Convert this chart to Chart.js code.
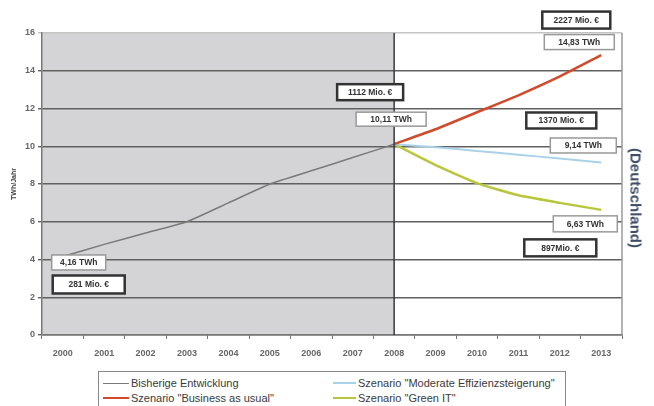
<!DOCTYPE html>
<html>
<head>
<meta charset="utf-8">
<script src="https://cdn.jsdelivr.net/npm/chart.js@4/dist/chart.umd.min.js"></script>
<style>
  body { margin: 0; background: #fff; }
  #wrap { position: relative; width: 654px; height: 406px; overflow: hidden; }
  #legend {
    position: absolute; left: 98px; top: 371px; width: 468px; height: 44px;
    border: 1px solid #888; background: #fff; box-sizing: border-box;
    font: 11px "Liberation Sans", Arial, sans-serif; color: #3a3a3a;
  }
  .item { position: absolute; display: flex; align-items: center; height: 14px; white-space: nowrap; }
  .swatch { display: inline-block; margin-right: 2px; }
  #land {
    position: absolute; left: 636px; top: 198px; transform: translate(-50%, -50%) rotate(90deg);
    font: bold 15px "Liberation Sans", Arial, sans-serif; color: #3f4d66; white-space: nowrap;
  }
</style>
</head>
<body>
<div id="wrap">
  <canvas id="chart" width="654" height="406"></canvas>
  <div id="legend"></div>
  <div id="land">(Deutschland)</div>
</div>
<script>
const years = ['2000', '2001', '2002', '2003', '2004', '2005', '2006', '2007', '2008', '2009', '2010', '2011', '2012', '2013'];
const bisherige = [4.16, 4.8, 5.4, 6.0, 7.0, 8.0, 8.7, 9.4, 10.11, null, null, null, null, null];
const businessAsUsual = [null, null, null, null, null, null, null, null, 10.11, 10.9, 11.8, 12.7, 13.7, 14.83];
const moderat = [null, null, null, null, null, null, null, null, 10.11, 9.95, 9.75, 9.55, 9.35, 9.14];
const greenIT = [null, null, null, null, null, null, null, null, 10.11, 9.0, 8.05, 7.4, 7.0, 6.63];
const yTicks = [0, 2, 4, 6, 8, 10, 12, 14, 16];

const seriesLabels = ['Bisherige Entwicklung', 'Szenario "Business as usual"', 'Szenario "Moderate Effizienzsteigerung"', 'Szenario "Green IT"'];
const seriesColors = ['#7a7a7a', '#d04a2c', '#a9d2ea', '#b9c63c'];
const seriesWidths = [1.5, 2.5, 2, 2.5];
const seriesData = [bisherige, businessAsUsual, moderat, greenIT];

// labels hung on data points, offsets in px
const notes = [
  { text: '2227 Mio. €', s: 1, i: 13, dx: -25, dy: -35, w: 68, h: 17, bold: true },
  { text: '14,83 TWh', s: 1, i: 13, dx: -22, dy: -13, w: 70, h: 15 },
  { text: '1112 Mio. €', s: 0, i: 8, dx: -24, dy: -52, w: 66, h: 16, bold: true },
  { text: '10,11 TWh', s: 0, i: 8, dx: -3, dy: -25, w: 70, h: 14 },
  { text: '1370 Mio. €', s: 2, i: 13, dx: -40, dy: -42, w: 70, h: 16, bold: true },
  { text: '9,14 TWh', s: 2, i: 13, dx: -18, dy: -17, w: 66, h: 15 },
  { text: '6,63 TWh', s: 3, i: 13, dx: -16, dy: 14, w: 64, h: 16 },
  { text: '897Mio. €', s: 3, i: 13, dx: -41, dy: 38, w: 72, h: 17, bold: true },
  { text: '4,16 TWh', s: 0, i: 0, dx: 16, dy: 6, w: 54, h: 15 },
  { text: '281 Mio. €', s: 0, i: 0, dx: 26, dy: 28, w: 72, h: 18, bold: true },
];

const backdrop = {
  id: 'backdrop',
  beforeDraw(chart) {
    const { ctx, chartArea: a, scales } = chart;
    const x08 = scales.x.getPixelForValue(8);
    ctx.save();
    ctx.fillStyle = '#d4d4d6';
    ctx.fillRect(a.left, a.top, x08 - a.left, a.bottom - a.top);
    ctx.restore();
  },
  afterDatasetsDraw(chart) {
    const { ctx, chartArea: a, scales } = chart;
    const x08 = scales.x.getPixelForValue(8);
    ctx.save();
    ctx.strokeStyle = '#3a3a3a';
    ctx.lineWidth = 1.5;
    ctx.beginPath();
    ctx.moveTo(x08, a.top);
    ctx.lineTo(x08, a.bottom);
    ctx.stroke();
    ctx.strokeStyle = '#9a9a9a';
    ctx.lineWidth = 1.5;
    ctx.beginPath();
    ctx.moveTo(a.right, a.top);
    ctx.lineTo(a.right, a.bottom);
    ctx.stroke();

    ctx.font = 'bold 8.5px "Liberation Sans", Arial, sans-serif';
    ctx.textAlign = 'center';
    ctx.textBaseline = 'middle';
    notes.forEach(n => {
      const px = scales.x.getPixelForValue(n.i) + n.dx;
      const py = scales.y.getPixelForValue(seriesData[n.s][n.i]) + n.dy;
      ctx.fillStyle = '#fff';
      ctx.fillRect(px - n.w / 2, py - n.h / 2, n.w, n.h);
      ctx.strokeStyle = n.bold ? '#333' : '#999';
      ctx.lineWidth = n.bold ? 2.5 : 1.5;
      ctx.strokeRect(px - n.w / 2, py - n.h / 2, n.w, n.h);
      ctx.fillStyle = '#333';
      ctx.fillText(n.text, px, py + 0.5);
    });
    ctx.restore();
  }
};

new Chart(document.getElementById('chart'), {
  type: 'line',
  data: {
    labels: years,
    datasets: seriesData.map((d, k) => ({
      label: seriesLabels[k],
      data: d,
      borderColor: seriesColors[k],
      borderWidth: seriesWidths[k],
      pointRadius: 0,
      tension: 0.15,
      spanGaps: false,
    })),
  },
  options: {
    responsive: false,
    animation: false,
    layout: { padding: { top: 33, right: 32, left: 0, bottom: 0 } },
    plugins: { legend: { display: false }, tooltip: { enabled: false } },
    scales: {
      x: {
        offset: true,
        afterFit: s => { s.height = 71; },
        grid: { drawOnChartArea: false, tickLength: 4, color: '#777', offset: true },
        border: { color: '#777', width: 1.5 },
        ticks: { padding: 9, color: '#666', font: { family: '"Liberation Sans", Arial, sans-serif', size: 9, weight: 'bold' } },
      },
      y: {
        min: 0,
        max: 16,
        afterFit: s => { s.width = 42; },
        afterBuildTicks: s => { s.ticks = yTicks.map(v => ({ value: v })); },
        grid: {
          tickLength: 4,
          lineWidth: 1.4,
          color: c => (c.tick && c.tick.value === 16 ? '#c4c4c4' : '#606060'),
        },
        border: { color: '#777', width: 1.5 },
        title: { display: true, text: 'TWh/Jahr', color: '#444', padding: { top: 10, bottom: 0 }, font: { family: '"Liberation Sans", Arial, sans-serif', size: 7, weight: 'bold' } },
        ticks: { padding: 3, color: '#666', font: { family: '"Liberation Sans", Arial, sans-serif', size: 9, weight: 'bold' } },
      },
    },
  },
  plugins: [backdrop],
});

// legend, two columns
const legend = document.getElementById('legend');
const spots = [[4, 4, 26], [4, 19, 26], [234, 4, 23], [234, 19, 23]];
seriesLabels.forEach((label, k) => {
  const it = document.createElement('div');
  it.className = 'item';
  it.style.left = spots[k][0] + 'px';
  it.style.top = spots[k][1] + 'px';
  it.innerHTML = '<span class="swatch" style="width:' + spots[k][2] + 'px;border-top:' + seriesWidths[k] + 'px solid ' + seriesColors[k] + '"></span>' + label;
  legend.appendChild(it);
});
</script>
</body>
</html>
